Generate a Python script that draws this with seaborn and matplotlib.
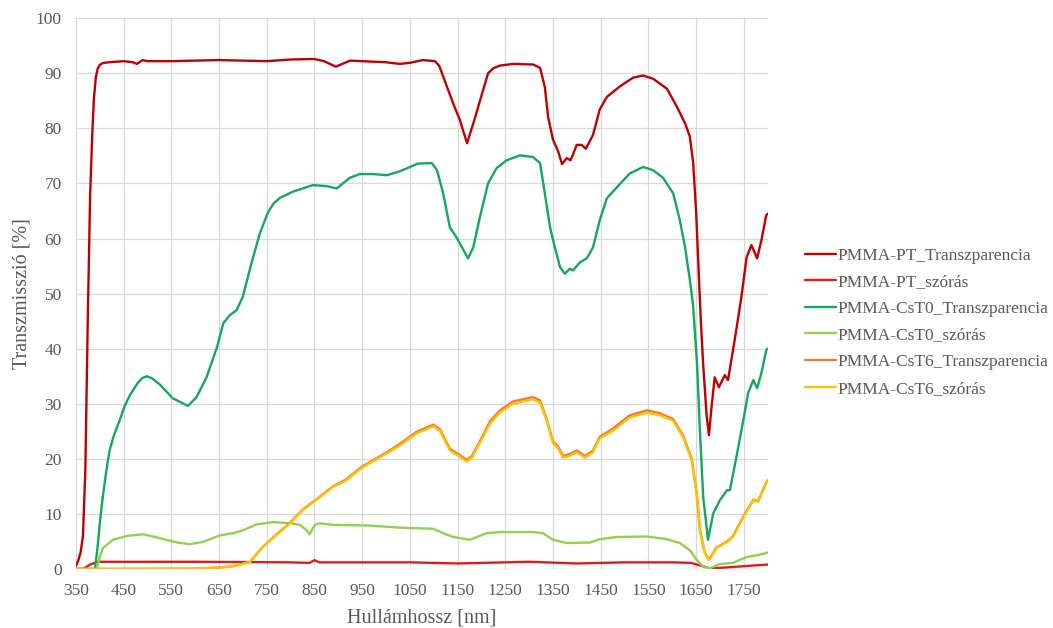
import numpy as np
import pandas as pd
import seaborn as sns
import matplotlib
matplotlib.use("Agg")
import matplotlib.pyplot as plt

# PMMA-PT transzparencia
wl_pt_t = [350, 355, 360, 365, 370, 375, 380, 385, 388, 392, 396, 400, 405, 410, 420, 450, 470,
           478, 490, 500, 550, 600, 650, 700, 750, 800, 850, 870, 895, 925, 1000, 1029, 1050,
           1077, 1103, 1112, 1120, 1141, 1155, 1170, 1187, 1197, 1214, 1225, 1239, 1266, 1308,
           1323, 1333, 1340, 1350, 1361, 1369, 1379, 1387, 1400, 1410, 1419, 1434, 1448, 1463,
           1490, 1518, 1539, 1560, 1589, 1610, 1627, 1637, 1644, 1650, 1655, 1660, 1665, 1672,
           1677, 1682, 1689, 1698, 1710, 1717, 1731, 1745, 1756, 1766, 1778, 1787, 1797, 1800]
pt_t = [0.5, 1.5, 3, 6, 18, 45, 68, 80, 85.5, 89.3, 90.9, 91.5, 91.8, 91.9, 92, 92.2, 92,
        91.7, 92.4, 92.2, 92.2, 92.3, 92.4, 92.3, 92.2, 92.5, 92.6, 92.2, 91.2, 92.3, 92, 91.7, 91.9,
        92.4, 92.2, 91.3, 89.4, 84.5, 81.5, 77.3, 82, 85, 90, 90.9, 91.4, 91.7, 91.6,
        91, 87.5, 82, 78, 75.8, 73.5, 74.6, 74.2, 77, 77, 76.3, 78.8, 83.4, 85.7,
        87.6, 89.2, 89.6, 89, 87.2, 83.9, 80.9, 78.5, 73.7, 65, 55, 45, 37, 28,
        24.3, 29, 34.8, 33, 35.2, 34.3, 41.6, 49.4, 56.6, 58.8, 56.4, 59.7, 64.2, 64.5]

# PMMA-PT szoras
wl_pt_s = [350, 365, 380, 395, 450, 600, 800, 840, 850, 860, 950, 1050, 1150, 1200, 1300,
           1400, 1500, 1600, 1640, 1660, 1680, 1700, 1750, 1800]
pt_s = [0, 0, 0.8, 1.3, 1.3, 1.3, 1.2, 1.1, 1.6, 1.2, 1.2, 1.2, 1.0, 1.1, 1.3,
        1.0, 1.2, 1.2, 1.1, 0.6, 0.1, 0.2, 0.5, 0.8]

# PMMA-CsT0 transzparencia
wl_c0_t = [350, 390, 395, 400, 405, 411, 416, 421, 430, 442, 452, 463, 480, 490, 499, 510, 526,
           553, 585, 603, 624, 646, 659, 673, 687, 700, 718, 736, 753, 765, 778, 805, 847, 876,
           897, 924, 945, 973, 1002, 1029, 1067, 1096, 1107, 1120, 1134, 1145, 1155, 1172, 1183,
           1197, 1214, 1232, 1253, 1281, 1308, 1323, 1333, 1344, 1354, 1365, 1375, 1385, 1392,
           1407, 1421, 1434, 1448, 1463, 1484, 1511, 1539, 1560, 1581, 1602, 1616, 1627, 1633,
           1637, 1644, 1652, 1658, 1665, 1675, 1686, 1700, 1715, 1721, 1736, 1749, 1759, 1770,
           1778, 1787, 1797, 1800]
c0_t = [0, 0, 3.5, 8, 12, 16, 19, 21.6, 24.3, 27, 29.5, 31.5, 33.8, 34.7, 35, 34.6, 33.5,
        31, 29.6, 31.2, 34.8, 40.3, 44.6, 46.1, 47, 49.4, 55.5, 61, 64.8, 66.4, 67.4, 68.5, 69.7, 69.5,
        69.1, 71, 71.7, 71.7, 71.5, 72.2, 73.6, 73.7, 72.4, 68.2, 62, 60.6, 59.1, 56.4, 58.4,
        63.9, 70, 72.8, 74.2, 75.1, 74.8, 73.7, 68.2, 62, 58.4, 54.8, 53.6, 54.5, 54.2,
        55.7, 56.4, 58.4, 63.3, 67.3, 69.3, 71.8, 73, 72.4, 71, 68.2, 63.3, 58.4, 54.8,
        52.5, 47.6, 37.3, 25.2, 13, 5.3, 10.1, 12.5, 14.3, 14.3, 21, 27, 31.9, 34.3,
        32.8, 35.6, 39.7, 40]

# PMMA-CsT0 szoras
wl_c0_s = [350, 394, 400, 407, 428, 457, 491, 526, 562, 589, 616, 652, 680, 700, 729, 763,
           799, 820, 834, 840, 851, 861, 889, 960, 1029, 1099, 1120, 1141, 1176, 1211, 1239,
           1308, 1329, 1350, 1379, 1428, 1448, 1484, 1547, 1589, 1616, 1637, 1652, 1665, 1679,
           1700, 1727, 1757, 1778, 1797, 1800]
c0_s = [0, 0, 2.2, 3.8, 5.3, 6, 6.3, 5.6, 4.8, 4.5, 4.9, 6.1, 6.5, 7, 8.1, 8.5,
        8.3, 8.0, 7, 6.3, 8, 8.3, 8, 7.9, 7.5, 7.3, 6.5, 5.8, 5.3, 6.5, 6.7,
        6.7, 6.5, 5.3, 4.7, 4.8, 5.4, 5.8, 5.9, 5.4, 4.7, 3.4, 1.6, 0.4, 0.1,
        0.9, 1.1, 2.2, 2.5, 2.9, 3.0]

# PMMA-CsT6 (transzparencia + szoras)
wl_c6 = [350, 600, 637, 673, 694, 715, 742, 771, 799, 826, 861, 889, 917, 950, 1000, 1029,
         1064, 1099, 1113, 1134, 1151, 1169, 1180, 1197, 1218, 1239, 1266, 1308, 1323, 1337,
         1350, 1361, 1371, 1386, 1400, 1417, 1434, 1448, 1476, 1511, 1547, 1574, 1602, 1623,
         1641, 1652, 1658, 1668, 1677, 1693, 1715, 1727, 1749, 1770, 1780, 1797, 1800]
c6_t = [0, 0.05, 0.2, 0.4, 0.8, 1.3, 4, 6.3, 8.4, 10.8, 13.1, 15, 16.3, 18.6, 21.1, 22.7,
        24.9, 26.2, 25.4, 21.8, 20.9, 19.8, 20.5, 23.2, 26.8, 28.8, 30.4, 31.2, 30.6, 27.2,
        23.2, 22.2, 20.5, 20.9, 21.5, 20.5, 21.5, 24, 25.5, 27.9, 28.8, 28.3, 27.2, 24.2,
        20, 13.3, 7.2, 3, 1.7, 3.9, 5, 5.9, 9.5, 12.6, 12.3, 15.7, 16.1]
c6_s = [0, 0.05, 0.2, 0.4, 0.8, 1.3, 4, 6.2, 8.3, 10.7, 13.0, 14.9, 16.1, 18.4, 20.9, 22.4,
        24.6, 25.9, 25.1, 21.5, 20.6, 19.5, 20.2, 22.9, 26.4, 28.4, 30.0, 30.8, 30.2, 26.9,
        22.9, 21.9, 20.2, 20.6, 21.2, 20.2, 21.2, 23.7, 25.1, 27.5, 28.4, 27.9, 26.9, 23.9,
        19.7, 13.0, 7.0, 2.9, 1.6, 3.8, 4.9, 5.8, 9.4, 12.5, 12.2, 15.6, 16.0]

series = [
    ("PMMA-PT_Transzparencia", wl_pt_t, pt_t, "#C00000"),
    ("PMMA-PT_szórás", wl_pt_s, pt_s, "#E01B1B"),
    ("PMMA-CsT0_Transzparencia", wl_c0_t, c0_t, "#14A85A"),
    ("PMMA-CsT0_szórás", wl_c0_s, c0_s, "#92D050"),
    ("PMMA-CsT6_Transzparencia", wl_c6, c6_t, "#F07B35"),
    ("PMMA-CsT6_szórás", wl_c6, c6_s, "#FFC000"),
]

sns.set_theme(style="white")
plt.rcParams['font.family'] = ['Liberation Serif', 'DejaVu Serif']

fig = plt.figure(figsize=(10.53, 6.28), dpi=100)
ax = fig.add_axes([0.072, 0.094, 0.657, 0.877])

for name, x, y, col in series:
    sns.lineplot(x=x, y=y, ax=ax, color=col, linewidth=1.7, label=name, sort=False)

ax.set_xlim(350, 1800)
ax.set_ylim(0, 100)
ax.set_xticks(np.arange(350, 1800, 100))
ax.set_yticks(np.arange(0, 101, 10))
ax.grid(True, color="#D9D9D9", linewidth=0.9)
ax.set_axisbelow(True)
for s in ax.spines.values():
    s.set_visible(False)
ax.tick_params(length=0, labelsize=12.5, colors="#595959")
ax.tick_params(axis="x", pad=10)
ax.tick_params(axis="y", pad=10)
ax.set_xlabel("Hullámhossz [nm]", fontsize=14.5, color="#595959", labelpad=7)
ax.set_ylabel("Transzmisszió [%]", fontsize=14.5, color="#595959", labelpad=3)

handles, labels = ax.get_legend_handles_labels()
ax.legend_.remove()
fig.legend(handles, labels, loc="center left", bbox_to_anchor=(0.758, 0.487),
           frameon=False, fontsize=12.5, labelcolor="#595959", handlelength=1.75,
           handletextpad=0.1, labelspacing=0.6, borderaxespad=0)

fig.savefig("out.png", dpi=100)
